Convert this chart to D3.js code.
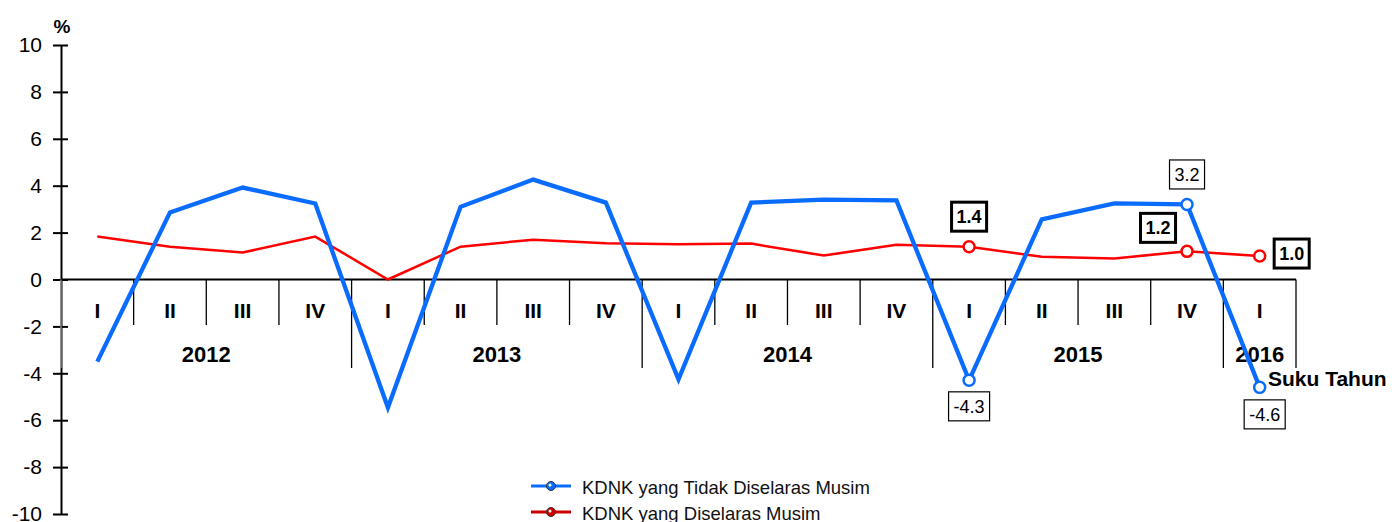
<!DOCTYPE html>
<html>
<head>
<meta charset="utf-8">
<script src="https://cdn.jsdelivr.net/npm/d3@7"></script>
<style>
  body { margin: 0; background: #fff; }
  svg { font-family: "Liberation Sans", Arial, sans-serif; }
</style>
</head>
<body>
<svg id="chart" width="1392" height="522"></svg>
<script>
(function () {
    var years = ['2012', '2013', '2014', '2015', '2016'];
    var quarters = ['I','II','III','IV','I','II','III','IV','I','II','III','IV','I','II','III','IV','I'];
    var unadjusted = [-3.5, 2.86, 3.92, 3.24, -5.46, 3.1, 4.26, 3.28, -4.26, 3.28, 3.41, 3.37, -4.3, 2.56, 3.25, 3.2, -4.6];
    var adjusted = [1.83, 1.4, 1.15, 1.83, 0.0, 1.4, 1.7, 1.55, 1.5, 1.53, 1.02, 1.48, 1.4, 0.97, 0.9, 1.2, 1.0];
    var yTicks = [10, 8, 6, 4, 2, 0, -2, -4, -6, -8, -10];
    var seriesNames = ['KDNK yang Tidak Diselaras Musim', 'KDNK yang Diselaras Musim'];
    var marked = [12, 15, 16];

    var blue = '#0a6cff', red = '#ff0000';
    var svg = d3.select('#chart');

    var x = d3.scaleBand().domain(d3.range(quarters.length)).range([61, 1296]);
    var y = d3.scaleLinear().domain([-10, 10]).range([514, 45]);
    var cx = function (i) { return x(i) + x.bandwidth() / 2; };

    // y axis
    var yAxis = svg.append('g').attr('transform', 'translate(61,0)')
        .call(d3.axisLeft(y).tickValues(yTicks).tickSize(8).tickSizeOuter(0).tickFormat(function (d) { return String(d); }));
    yAxis.select('.domain').attr('stroke', '#000').attr('stroke-width', 2);
    yAxis.selectAll('.tick line').attr('stroke', '#000').attr('stroke-width', 2).attr('x2', -8).attr('x1', 7);
    yAxis.selectAll('.tick text').attr('font-size', 21).attr('fill', '#000').attr('x', -19)
        .attr('font-family', '"Liberation Sans", Arial, sans-serif');

    svg.append('text').attr('x', 62).attr('y', 33).attr('text-anchor', 'middle')
        .attr('font-size', 19).attr('font-weight', 'bold').text('%');

    // zero line
    svg.append('line').attr('x1', 61).attr('x2', 1296).attr('y1', y(0)).attr('y2', y(0))
        .attr('stroke', '#000').attr('stroke-width', 2);

    // quarter dividers
    d3.range(quarters.length + 1).forEach(function (i) {
        var xx = i < quarters.length ? x(i) : 1296;
        var isYear = i % 4 === 0 || i === quarters.length;
        svg.append('line').attr('x1', xx).attr('x2', xx).attr('y1', y(0))
            .attr('y2', isYear ? 368 : 325)
            .attr('stroke', i === 0 ? '#999' : '#000').attr('stroke-width', 1.3);
    });

    svg.selectAll('.qlab').data(quarters).enter().append('text')
        .attr('x', function (d, i) { return cx(i); }).attr('y', 318)
        .attr('text-anchor', 'middle').attr('font-size', 21).attr('font-weight', 'bold').text(function (d) { return d; });

    svg.selectAll('.ylab').data(years).enter().append('text')
        .attr('x', function (d, i) {
            var a = i * 4, b = Math.min(a + 3, quarters.length - 1);
            return (x(a) + x(b) + x.bandwidth()) / 2;
        })
        .attr('y', 362).attr('text-anchor', 'middle').attr('font-size', 22).attr('font-weight', 'bold')
        .text(function (d) { return d; });

    svg.append('text').attr('x', 1268).attr('y', 386).attr('font-size', 21).attr('font-weight', 'bold').text('Suku Tahun');

    // lines
    var line = d3.line().x(function (d, i) { return cx(i); }).y(function (d) { return y(d); });
    svg.append('path').datum(adjusted).attr('d', line).attr('fill', 'none').attr('stroke', red).attr('stroke-width', 2.5);
    svg.append('path').datum(unadjusted).attr('d', line).attr('fill', 'none').attr('stroke', blue).attr('stroke-width', 4.3).attr('stroke-linejoin', 'miter');

    // markers
    [[adjusted, red], [unadjusted, blue]].forEach(function (s) {
        svg.selectAll(null).data(marked).enter().append('circle')
            .attr('cx', function (i) { return cx(i); }).attr('cy', function (i) { return y(s[0][i]); })
            .attr('r', 5.5).attr('fill', '#fff').attr('stroke', s[1]).attr('stroke-width', 2.5);
    });

    // value boxes
    function box(px, py, txt, bold) {
        var g = svg.append('g');
        var t = g.append('text').attr('x', px).attr('y', py + 6.5).attr('text-anchor', 'middle')
            .attr('font-size', 18).attr('font-weight', bold ? 'bold' : 'normal').text(txt);
        var bb = t.node().getBBox();
        g.insert('rect', 'text').attr('x', bb.x - 5).attr('y', py - 14.5).attr('width', bb.width + 10).attr('height', 29)
            .attr('fill', '#fff').attr('stroke', '#000').attr('stroke-width', bold ? 3 : 1.2);
    }
    box(cx(12), y(adjusted[12]) - 30, adjusted[12].toFixed(1), true);
    box(cx(15) - 29, y(adjusted[15]) - 23.5, adjusted[15].toFixed(1), true);
    box(cx(16) + 32, y(adjusted[16]) - 2.5, adjusted[16].toFixed(1), true);
    box(cx(15), y(unadjusted[15]) - 30, unadjusted[15].toFixed(1), false);
    box(cx(12), y(unadjusted[12]) + 26, unadjusted[12].toFixed(1), false);
    box(cx(16) + 5, y(unadjusted[16]) + 27, unadjusted[16].toFixed(1), false);

    // legend
    var legend = svg.append('g');
    seriesNames.forEach(function (name, i) {
        var ly = 486 + i * 26;
        var col = i === 0 ? blue : '#cc0000';
        legend.append('line').attr('x1', 531).attr('x2', 571).attr('y1', ly).attr('y2', ly)
            .attr('stroke', col).attr('stroke-width', 3);
        legend.append('circle').attr('cx', 551).attr('cy', ly).attr('r', 4.5).attr('fill', col).attr('stroke', '#333').attr('stroke-width', 1);
        legend.append('circle').attr('cx', 550).attr('cy', ly - 1).attr('r', 1.5).attr('fill', '#fff');
        legend.append('text').attr('x', 582).attr('y', ly + 8).attr('font-size', 18.5).attr('fill', '#111').text(name);
    });
})();
</script>
</body>
</html>
